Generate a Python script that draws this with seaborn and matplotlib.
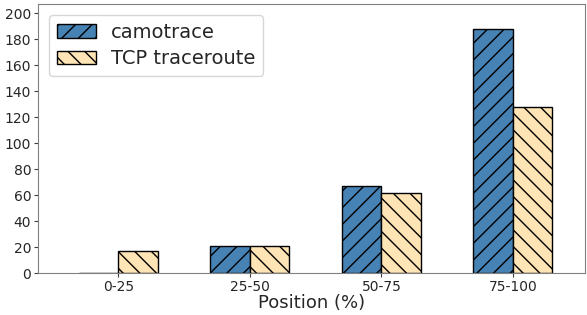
import pandas as pd
import matplotlib
matplotlib.use("Agg")
import matplotlib.pyplot as plt
import seaborn as sns

positions = ["0-25", "25-50", "50-75", "75-100"]
camotrace = [0, 21, 67, 188]
tcp_traceroute = [17, 21, 62, 128]

df = pd.DataFrame({
    "position": positions * 2,
    "count": camotrace + tcp_traceroute,
    "tool": ["camotrace"] * 4 + ["TCP traceroute"] * 4,
})

sns.set_style("ticks", {"axes.edgecolor": "#808080", "xtick.color": "#404040",
                        "ytick.color": "#404040", "text.color": "#262626"})
plt.rcParams["hatch.linewidth"] = 1.0

fig, ax = plt.subplots(figsize=(5.87, 3.15), dpi=100)
sns.barplot(data=df, x="position", y="count", hue="tool",
            palette=["#4682B4", "#FFE4B5"], width=0.6, saturation=1,
            edgecolor="black", linewidth=1, legend=False, ax=ax)

for cont, hatch in zip(ax.containers, ["//", "\\\\"]):
    for bar in cont:
        bar.set_hatch(hatch)

ax.legend(handles=list(ax.containers), labels=["camotrace", "TCP traceroute"],
          loc="upper left", fontsize=14, handlelength=2.0, handleheight=0.72,
          borderaxespad=0.55, labelspacing=0.4)

ax.set_ylim(0, 207)
ax.set_xlim(-0.61, 3.55)
ax.set_yticks(range(0, 201, 20))
ax.set_xlabel("Position (%)", fontsize=13, labelpad=0)
ax.set_ylabel("")
ax.tick_params(axis="both", labelsize=10, labelcolor="#262626", length=3, pad=2)

fig.subplots_adjust(left=0.065, right=0.997, top=0.987, bottom=0.133)
fig.savefig("out.png", dpi=100)
